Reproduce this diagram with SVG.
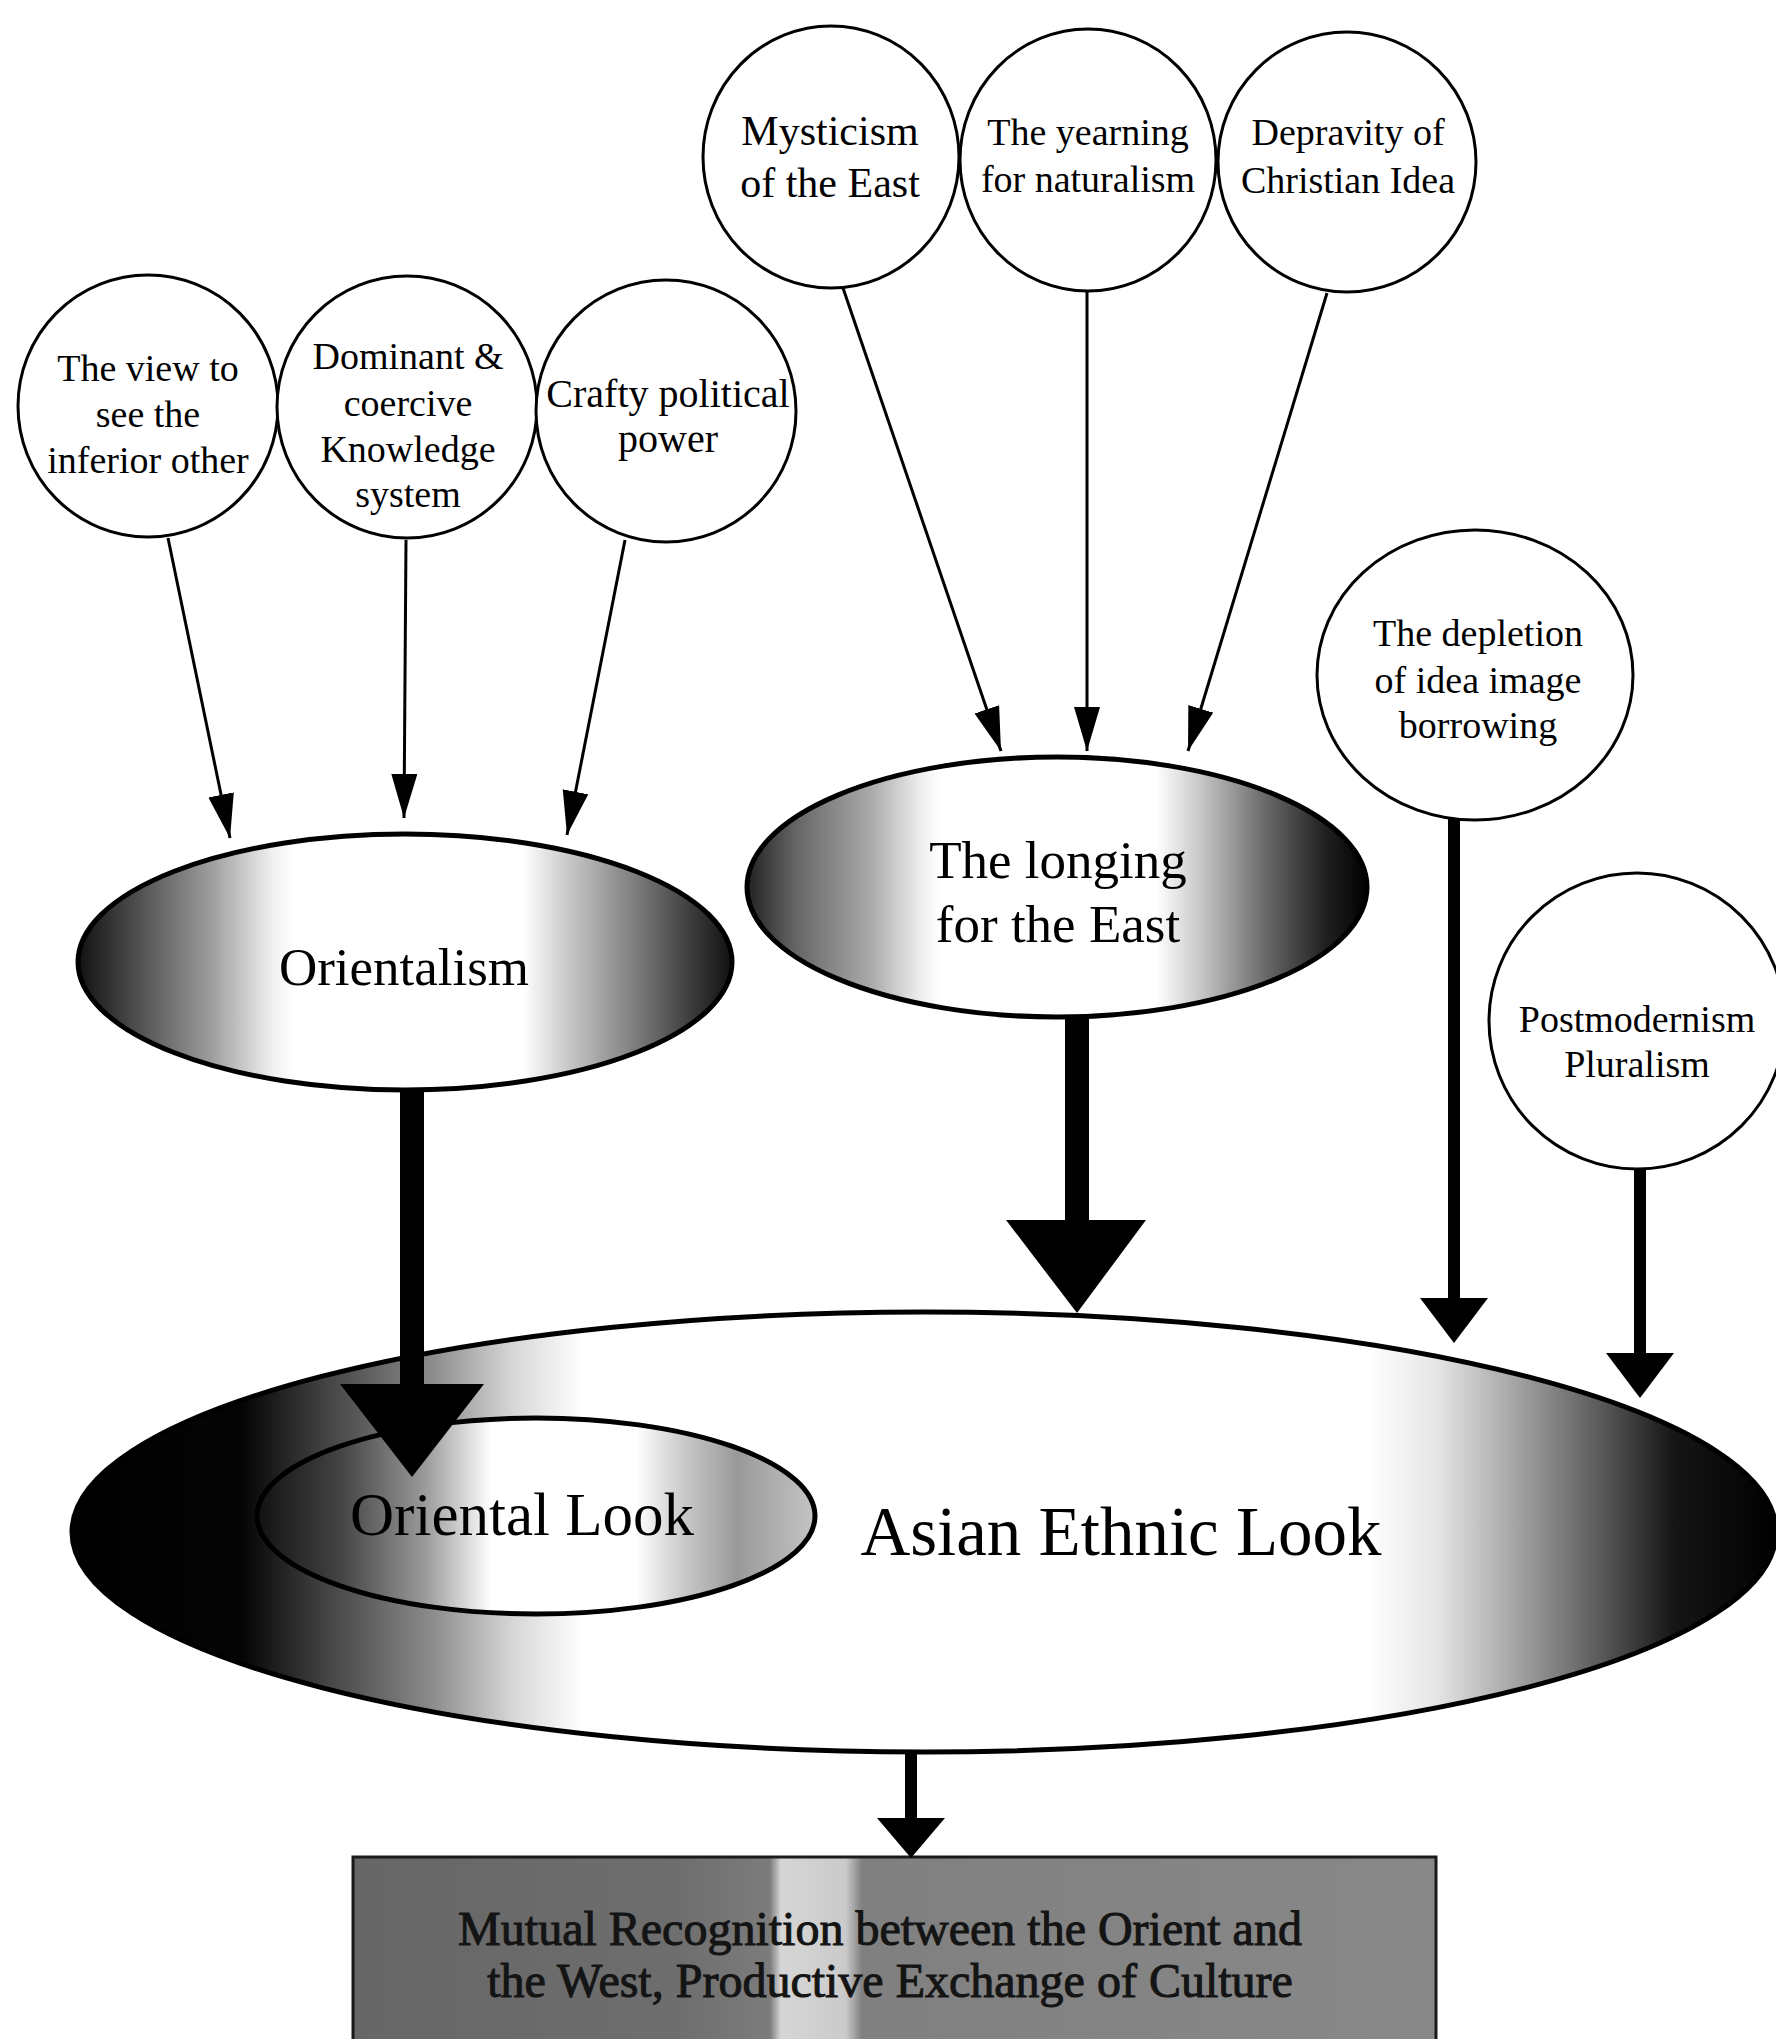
<svg xmlns="http://www.w3.org/2000/svg" width="1776" height="2039" viewBox="0 0 1776 2039">
<style>
.bg{fill:#ffffff}
.circ{fill:#ffffff;stroke:#000;stroke-width:3}
.big{stroke:#000;stroke-width:5}
.t{font-family:"Liberation Serif","Times New Roman",serif;fill:#000;text-anchor:middle}
.s38{font-size:38px}
.s40{font-size:40px}
.s42{font-size:42px}
.s53{font-size:53px}
.boxt{font-size:48px;fill:#141414;stroke:#141414;stroke-width:1}
.thin{stroke:#000;stroke-width:3;fill:none}
.head{fill:#000}
</style>
<defs>
<marker id="ah" markerUnits="userSpaceOnUse" markerWidth="50" markerHeight="30" refX="44" refY="13" orient="auto">
<path d="M0,0 L44,13 L0,26 Z" fill="#000"/>
</marker>
<linearGradient id="gOrient" x1="0" y1="0" x2="1" y2="0">
<stop offset="0" stop-color="#111"/>
<stop offset="0.1" stop-color="#555"/>
<stop offset="0.2" stop-color="#9a9a9a"/>
<stop offset="0.3" stop-color="#f2f2f2"/>
<stop offset="0.33" stop-color="#fff"/>
<stop offset="0.68" stop-color="#fff"/>
<stop offset="0.75" stop-color="#c8c8c8"/>
<stop offset="0.86" stop-color="#777"/>
<stop offset="0.95" stop-color="#333"/>
<stop offset="1" stop-color="#111"/>
</linearGradient>
<linearGradient id="gLong" x1="0" y1="0" x2="1" y2="0">
<stop offset="0" stop-color="#222"/>
<stop offset="0.08" stop-color="#666"/>
<stop offset="0.2" stop-color="#aaa"/>
<stop offset="0.28" stop-color="#eee"/>
<stop offset="0.31" stop-color="#fff"/>
<stop offset="0.66" stop-color="#fff"/>
<stop offset="0.73" stop-color="#c8c8c8"/>
<stop offset="0.84" stop-color="#666"/>
<stop offset="0.93" stop-color="#222"/>
<stop offset="1" stop-color="#000"/>
</linearGradient>
<linearGradient id="gAsian" x1="0" y1="0" x2="1" y2="0">
<stop offset="0" stop-color="#000"/>
<stop offset="0.1" stop-color="#050505"/>
<stop offset="0.15" stop-color="#444"/>
<stop offset="0.21" stop-color="#8a8a8a"/>
<stop offset="0.26" stop-color="#d8d8d8"/>
<stop offset="0.3" stop-color="#fff"/>
<stop offset="0.76" stop-color="#fff"/>
<stop offset="0.8" stop-color="#e6e6e6"/>
<stop offset="0.85" stop-color="#a0a0a0"/>
<stop offset="0.9" stop-color="#555"/>
<stop offset="0.94" stop-color="#151515"/>
<stop offset="1" stop-color="#000"/>
</linearGradient>
<linearGradient id="gOL" x1="0" y1="0" x2="1" y2="0">
<stop offset="0" stop-color="#111"/>
<stop offset="0.15" stop-color="#444"/>
<stop offset="0.3" stop-color="#999"/>
<stop offset="0.38" stop-color="#ddd"/>
<stop offset="0.42" stop-color="#fff"/>
<stop offset="0.68" stop-color="#fff"/>
<stop offset="0.76" stop-color="#ccc"/>
<stop offset="0.86" stop-color="#999"/>
<stop offset="0.95" stop-color="#b5b5b5"/>
<stop offset="1" stop-color="#c5c5c5"/>
</linearGradient>
<linearGradient id="gBox" x1="0" y1="0" x2="1" y2="0">
<stop offset="0" stop-color="#666"/>
<stop offset="0.3" stop-color="#6e6e6e"/>
<stop offset="0.385" stop-color="#7c7c7c"/>
<stop offset="0.395" stop-color="#d6d6d6"/>
<stop offset="0.455" stop-color="#cacaca"/>
<stop offset="0.47" stop-color="#808080"/>
<stop offset="1" stop-color="#888"/>
</linearGradient>
</defs>
<rect class="bg" x="0" y="0" width="1776" height="2039"/>

<g id="node-view">
<ellipse class="circ" cx="148" cy="406" rx="130" ry="131"/>
<text class="t s38" x="148" y="381">The view to</text>
<text class="t s38" x="148" y="427">see the</text>
<text class="t s38" x="148" y="473">inferior other</text>
</g>
<g id="node-dominant">
<ellipse class="circ" cx="407" cy="407" rx="130" ry="131"/>
<text class="t s38" x="408" y="369">Dominant &amp;</text>
<text class="t s38" x="408" y="416">coercive</text>
<text class="t s38" x="408" y="462">Knowledge</text>
<text class="t s38" x="408" y="507">system</text>
</g>
<g id="node-crafty">
<ellipse class="circ" cx="666" cy="411" rx="130" ry="131"/>
<text class="t s40" x="668" y="407">Crafty political</text>
<text class="t s40" x="668" y="452">power</text>
</g>
<g id="node-mysticism">
<ellipse class="circ" cx="831" cy="157" rx="128" ry="131"/>
<text class="t s42" x="830" y="145">Mysticism</text>
<text class="t s42" x="830" y="197">of the East</text>
</g>
<g id="node-yearning">
<ellipse class="circ" cx="1088" cy="160" rx="128" ry="131"/>
<text class="t s38" x="1088" y="145">The yearning</text>
<text class="t s38" x="1088" y="192">for naturalism</text>
</g>
<g id="node-depravity">
<ellipse class="circ" cx="1347" cy="162" rx="129" ry="130"/>
<text class="t s38" x="1348" y="145">Depravity of</text>
<text class="t s38" x="1348" y="193">Christian Idea</text>
</g>
<g id="node-depletion">
<ellipse class="circ" cx="1475" cy="675" rx="158" ry="145"/>
<text class="t s38" x="1478" y="646">The depletion</text>
<text class="t s38" x="1478" y="693">of idea image</text>
<text class="t s38" x="1478" y="738">borrowing</text>
</g>
<g id="node-postmodernism">
<ellipse class="circ" cx="1637" cy="1021" rx="148" ry="148"/>
<text class="t s38" x="1637" y="1032">Postmodernism</text>
<text class="t s38" x="1637" y="1077">Pluralism</text>
</g>

<g id="node-orientalism">
<ellipse class="big" cx="405" cy="962" rx="327" ry="128" fill="url(#gOrient)"/>
<text class="t s53" x="404" y="985">Orientalism</text>
</g>
<g id="node-longing">
<ellipse class="big" cx="1057" cy="887" rx="310" ry="130" fill="url(#gLong)"/>
<text class="t s53" x="1058" y="878">The longing</text>
<text class="t s53" x="1058" y="942">for the East</text>
</g>
<g id="node-asian">
<ellipse class="big" cx="924" cy="1532" rx="852" ry="220" fill="url(#gAsian)"/>
<text class="t" style="font-size:69px" x="1121" y="1555">Asian Ethnic Look</text>
</g>
<g id="node-oriental-look">
<ellipse class="big" cx="536" cy="1516" rx="279" ry="98" fill="url(#gOL)"/>
<text class="t" style="font-size:61px" x="522" y="1535">Oriental Look</text>
</g>
<g id="node-mutual">
<rect x="353" y="1857" width="1083" height="200" fill="url(#gBox)" stroke="#1a1a1a" stroke-width="3"/>
<text class="t boxt" x="880" y="1945">Mutual Recognition between the Orient and</text>
<text class="t boxt" x="890" y="1997">the West, Productive Exchange of Culture</text>
</g>

<g id="connectors">
<line class="thin" x1="168" y1="538" x2="230" y2="838" marker-end="url(#ah)"/>
<line class="thin" x1="406" y1="540" x2="404" y2="818" marker-end="url(#ah)"/>
<line class="thin" x1="625" y1="540" x2="567" y2="835" marker-end="url(#ah)"/>
<line class="thin" x1="843" y1="288" x2="1001" y2="751" marker-end="url(#ah)"/>
<line class="thin" x1="1087" y1="291" x2="1087" y2="751" marker-end="url(#ah)"/>
<line class="thin" x1="1327" y1="293" x2="1188" y2="751" marker-end="url(#ah)"/>

<rect x="400" y="1090" width="24" height="296"/>
<polygon class="head" points="340,1384 484,1384 412,1477"/>
<rect x="1065" y="1015" width="24" height="207"/>
<polygon class="head" points="1006,1220 1146,1220 1077,1313"/>
<rect x="1448" y="818" width="12" height="482"/>
<polygon class="head" points="1420,1298 1488,1298 1454,1343"/>
<rect x="1634" y="1168" width="12" height="187"/>
<polygon class="head" points="1606,1353 1674,1353 1640,1398"/>
<rect x="905" y="1750" width="12" height="70"/>
<polygon class="head" points="877,1818 945,1818 911,1858"/>
</g>
</svg>
